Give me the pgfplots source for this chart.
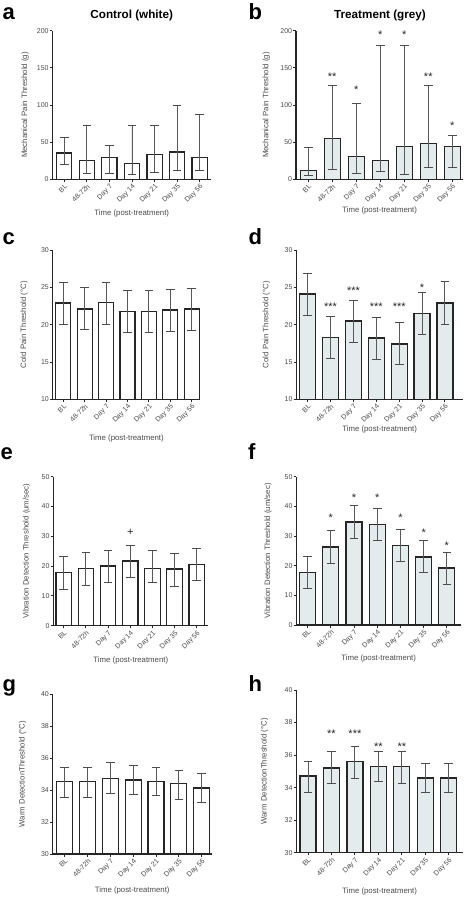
\documentclass[border=0pt]{standalone}
\usepackage{fontspec}
\setmainfont{Liberation Sans}
\usepackage{pgfplots}
\pgfplotsset{compat=1.18}
\usepackage{pgfplotstable}
\definecolor{barfill}{HTML}{E3EBEC}
\definecolor{txt}{HTML}{4A4A4A}

\pgfplotstableread{
x y hi lo
0 35.4 56 19.7
1 25.6 72.6 8
2 29 45.3 8
3 21.5 72.6 5.8
4 33.6 72.6 9.4
5 36.8 99.6 11.2
6 29.6 87 12.1
}\tabA
\pgfplotstableread{
x y hi lo
0 12.1 43 5.4
1 55.2 126.5 13
2 31 101.8 8
3 25 179.8 10.3
4 44 180 6.7
5 48.4 126.5 16
6 44 59.6 16
}\tabB
\pgfplotstableread{
x y lab
1 140.4 **
2 123.8 *
3 196.9 *
4 196.9 *
5 140.4 **
6 74.4 *
}\starB
\pgfplotstableread{
x y hi lo
0 22.9 25.71 20
1 22.1 25 19.29
2 22.99 25.71 20
3 21.79 24.55 18.97
4 21.79 24.55 18.97
5 21.96 24.73 19.06
6 22.1 24.82 19.15
}\tabC
\pgfplotstableread{
x y hi lo
0 24.11 26.88 21.29
1 18.3 21.07 15.49
2 20.49 23.3 17.63
3 18.21 20.98 15.27
4 17.41 20.27 14.6
5 21.47 24.24 18.7
6 22.9 25.76 20.04
}\tabD
\pgfplotstableread{
x y lab
1 22.63 ***
2 24.78 ***
3 22.63 ***
4 22.63 ***
5 25.18 *
}\starD
\pgfplotstableread{
x y hi lo
0 17.9 23.15 12.3
1 19.24 24.6 13.6
2 20.0 25.4 14.4
3 21.7 27.07 16.2
4 19.24 25.4 14.5
5 19.0 24.2 13.3
6 20.6 25.95 15.1
}\tabE
\pgfplotstableread{
x y lab
3 31.3 +
}\starE
\pgfplotstableread{
x y hi lo
0 17.75 23 12.4
1 26.3 31.7 20.7
2 34.7 40.2 29.2
3 33.9 39.3 28.4
4 26.7 32.1 21.3
5 22.9 28.4 17.6
6 19.2 24.6 13.7
}\tabF
\pgfplotstableread{
x y lab
1 36.7 *
2 43.5 *
3 43.5 *
4 36.9 *
5 31.7 *
6 27.5 *
}\starF
\pgfplotstableread{
x y hi lo
0 34.52 35.42 33.52
1 34.52 35.42 33.52
2 34.73 35.71 33.81
3 34.63 35.52 33.71
4 34.52 35.42 33.63
5 34.42 35.21 33.42
6 34.13 35.02 33.23
}\tabG
\pgfplotstableread{
x y hi lo
0 34.71 35.59 33.69
1 35.2 36.19 34.26
2 35.61 36.52 34.59
3 35.31 36.19 34.36
4 35.31 36.19 34.26
5 34.59 35.49 33.69
6 34.59 35.49 33.69
}\tabH
\pgfplotstableread{
x y lab
1 37.42 **
2 37.42 ***
3 36.62 **
4 36.62 **
}\starH

\pgfplotsset{
  panel/.style={
    scale only axis, anchor=south west, enlargelimits=false,
    axis x line*=bottom, axis y line*=left,
    axis line style={line width=1.3pt, black!85},
    tick align=outside, major tick length=2.7pt,
    tick style={line width=0.9pt, black!85},
    xtick={0,...,6},
    xticklabels={BL,48-72h,Day 7,Day 14,Day 21,Day 35,Day 56},
    x tick label style={rotate=45, anchor=north east, inner sep=1pt,
      font=\fontsize{7}{8}\selectfont, text=txt},
    y tick label style={inner sep=1pt, font=\fontsize{7}{8}\selectfont, text=txt},
    /pgf/number format/assume math mode=true,
    xlabel={Time (post-treatment)},
    label style={font=\fontsize{7.8}{9}\selectfont, text=txt, anchor=center},
  },
  yl/.style={ylabel style={at={(axis description cs:#1,0.5)}}},
  xl/.style={xlabel style={at={(axis description cs:0.5,#1)}}},
  bars/.style={ybar, bar width=#1, draw=black!85, line width=1.2pt,
    error bars/.cd, y dir=both, y explicit,
    error bar style={line width=0.9pt, black!65},
    error mark options={rotate=90, mark size=4.3pt, line width=1pt, black!70}},
  stars/.style={draw=none, nodes near coords, point meta=explicit symbolic,
    nodes near coords style={anchor=center, font=\fontsize{11}{12}\selectfont,
      text=black!85, yshift=#1}},
}

\begin{document}
\begin{tikzpicture}
\useasboundingbox (0,0) rectangle (466pt,900pt);

% titles and letters
\node[anchor=base, font=\bfseries\fontsize{11.7}{13}\selectfont] at (131.75pt,881.5pt) {Control (white)};
\node[anchor=base, font=\bfseries\fontsize{11.7}{13}\selectfont] at (380pt,881.5pt) {Treatment (grey)};
\begin{scope}[every node/.style={anchor=base west, inner sep=0pt, font=\bfseries\fontsize{22}{24}\selectfont}]
\node at (2.5pt,880pt) {a};
\node at (248.5pt,880pt) {b};
\node at (2.5pt,655pt) {c};
\node at (248.5pt,655pt) {d};
\node at (0.5pt,440.7pt) {e};
\node at (248pt,440pt) {f};
\node at (2.5pt,208.8pt) {g};
\node at (248.5pt,208.3pt) {h};
\end{scope}

% a
\begin{axis}[panel, at={(52.5pt,720.7pt)}, width=158.5pt, height=148.6pt,
  xmin=-0.52, xmax=6.5, ymin=0, ymax=200, ytick={0,50,100,150,200},
  ylabel={Mechanical Pain Threshold (g)}, yl=-0.1735, xl=-0.2268]
\addplot[fill=white, bars=15.3pt] table[x=x, y=y, y error plus expr=\thisrow{hi}-\thisrow{y}, y error minus expr=\thisrow{y}-\thisrow{lo}] {\tabA};
\end{axis}

% b
\begin{axis}[panel, at={(296pt,720.7pt)}, width=167.3pt, height=148.6pt,
  xmin=-0.51, xmax=6.46, ymin=0, ymax=200, ytick={0,50,100,150,200},
  ylabel={Mechanical Pain Threshold (g)}, yl=-0.1775, xl=-0.2113]
\addplot[fill=barfill, bars=16pt] table[x=x, y=y, y error plus expr=\thisrow{hi}-\thisrow{y}, y error minus expr=\thisrow{y}-\thisrow{lo}] {\tabB};
\addplot[stars=-2pt] table[x=x, y=y, meta=lab] {\starB};
\end{axis}

% c
\begin{axis}[panel, at={(52.7pt,500.7pt)}, width=147.3pt, height=149.3pt,
  xmin=-0.5, xmax=6.39, ymin=10, ymax=30, ytick={10,15,20,25,30},
  ylabel={Cold Pain Threshold (°C)}, yl=-0.1948, xl=-0.2592]
\addplot[fill=white, bars=15pt] table[x=x, y=y, y error plus expr=\thisrow{hi}-\thisrow{y}, y error minus expr=\thisrow{y}-\thisrow{lo}] {\tabC};
\end{axis}

% d
\begin{axis}[panel, at={(296.3pt,500.7pt)}, width=166.7pt, height=149.3pt,
  xmin=-0.5, xmax=6.79, ymin=10, ymax=30, ytick={10,15,20,25,30},
  ylabel={Cold Pain Threshold (°C)}, yl=-0.18, xl=-0.199]
\addplot[fill=barfill, bars=16pt] table[x=x, y=y, y error plus expr=\thisrow{hi}-\thisrow{y}, y error minus expr=\thisrow{y}-\thisrow{lo}] {\tabD};
\addplot[stars=-2pt] table[x=x, y=y, meta=lab] {\starD};
\end{axis}

% e
\begin{axis}[panel, at={(53.3pt,274.3pt)}, width=155pt, height=149pt,
  xmin=-0.47, xmax=6.52, ymin=0, ymax=50, ytick={0,10,20,30,40,50},
  ylabel={Vibration Detection Threshold (um/sec)}, yl=-0.1716, xl=-0.235]
\addplot[fill=white, bars=15.5pt] table[x=x, y=y, y error plus expr=\thisrow{hi}-\thisrow{y}, y error minus expr=\thisrow{y}-\thisrow{lo}] {\tabE};
\addplot[stars=0pt] table[x=x, y=y, meta=lab] {\starE};
\end{axis}

% f
\begin{axis}[panel, at={(296.3pt,275pt)}, width=164.7pt, height=148.3pt,
  xmin=-0.49, xmax=6.61, ymin=0, ymax=50, ytick={0,10,20,30,40,50},
  ylabel={Vibration Detection Threshold (um/sec)}, yl=-0.1718, xl=-0.229]
\addplot[fill=barfill, bars=16pt] table[x=x, y=y, y error plus expr=\thisrow{hi}-\thisrow{y}, y error minus expr=\thisrow{y}-\thisrow{lo}] {\tabF};
\addplot[stars=-2pt] table[x=x, y=y, meta=lab] {\starF};
\end{axis}

% g
\begin{axis}[panel, at={(52.7pt,46pt)}, width=159pt, height=160pt,
  xmin=-0.53, xmax=6.44, ymin=30, ymax=40, ytick={30,32,34,36,38,40},
  ylabel={Warm DetectionThreshold (°C)}, yl=-0.1887, xl=-0.231]
\addplot[fill=white, bars=16pt] table[x=x, y=y, y error plus expr=\thisrow{hi}-\thisrow{y}, y error minus expr=\thisrow{y}-\thisrow{lo}] {\tabG};
\end{axis}

% h
\begin{axis}[panel, at={(296.3pt,47.3pt)}, width=166.7pt, height=162.7pt,
  xmin=-0.5, xmax=6.61, ymin=30, ymax=40, ytick={30,32,34,36,38,40},
  ylabel={Warm DetectionThreshold (°C)}, yl=-0.19, xl=-0.24]
\addplot[fill=barfill, bars=16pt] table[x=x, y=y, y error plus expr=\thisrow{hi}-\thisrow{y}, y error minus expr=\thisrow{y}-\thisrow{lo}] {\tabH};
\addplot[stars=-2pt] table[x=x, y=y, meta=lab] {\starH};
\end{axis}
\end{tikzpicture}
\end{document}
